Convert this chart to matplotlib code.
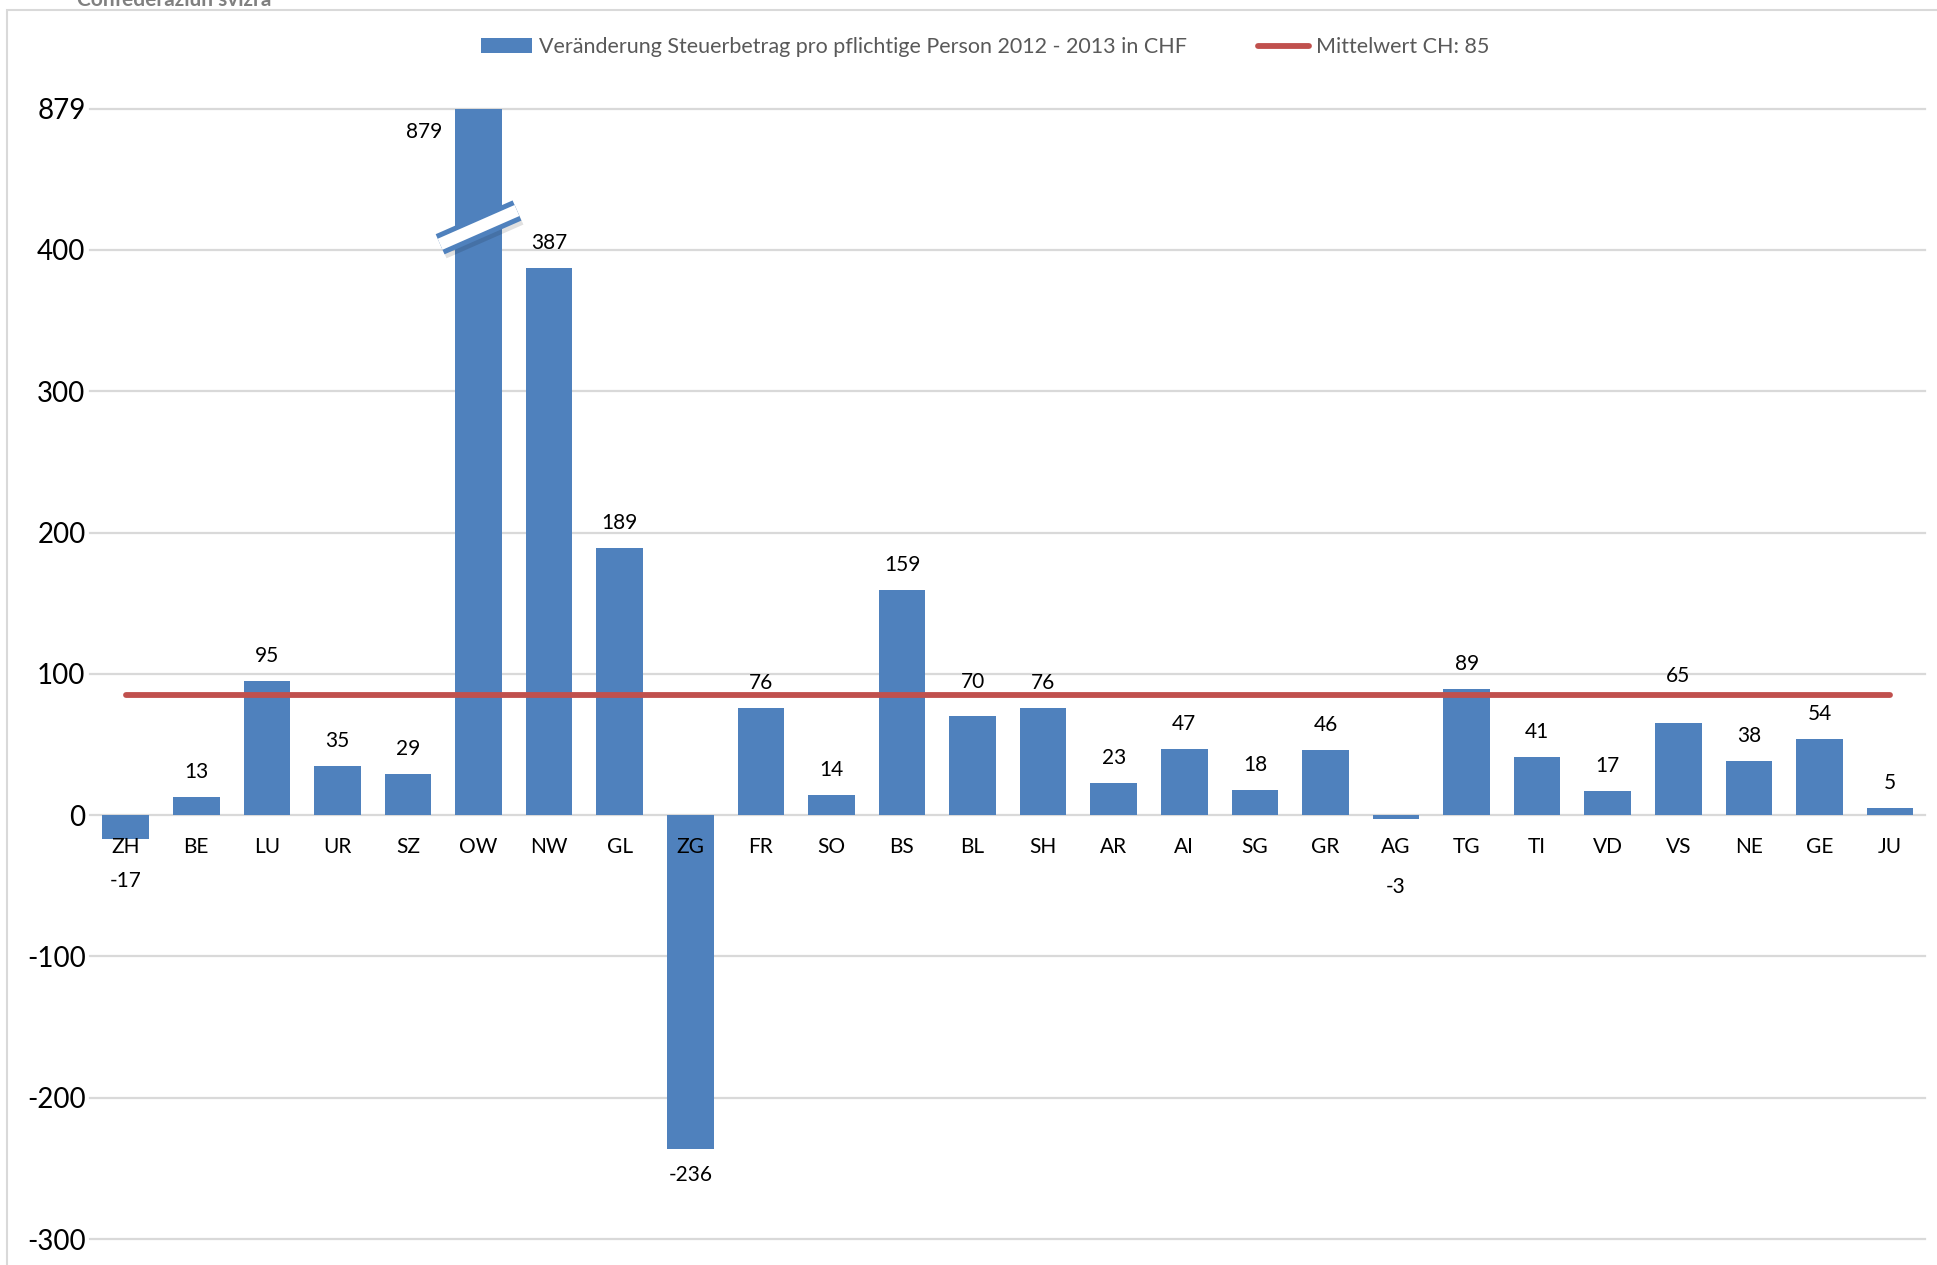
import numpy as np
import matplotlib
matplotlib.use("Agg")
import matplotlib.pyplot as plt
from matplotlib.patches import Polygon, Rectangle
from matplotlib.lines import Line2D
from matplotlib.patches import Patch

# ---- data ----
cantons = ["ZH", "BE", "LU", "UR", "SZ", "OW", "NW", "GL", "ZG", "FR", "SO", "BS", "BL",
           "SH", "AR", "AI", "SG", "GR", "AG", "TG", "TI", "VD", "VS", "NE", "GE", "JU"]
changes = [-17, 13, 95, 35, 29, 879, 387, 189, -236, 76, 14, 159, 70,
           76, 23, 47, 18, 46, -3, 89, 41, 17, 65, 38, 54, 5]
mean_ch = 85
ytick_values = [-300, -200, -100, 0, 100, 200, 300, 400, 500]
ytick_labels = ["-300", "-200", "-100", "0", "100", "200", "300", "400", "879"]
break_top = 500          # axis position at which the broken value 879 is drawn
break_at = 416           # where the break mark sits on the OW bar

series_label = "Veränderung Steuerbetrag pro pflichtige Person 2012 - 2013 in CHF"
mean_label = "Mittelwert CH: 85"

# label offsets in pixels (style)
label_dy = {"VS": 47, "BL": 34, "ZH": -42, "AG": -68}

BLUE = "#4F81BD"
RED = "#C0504D"
GRID = "#D9D9D9"

plt.rcParams["font.family"] = ["Lato", "DejaVu Sans"]

W, H = 1937, 1265
fig = plt.figure(figsize=(W / 100, H / 100), dpi=100)
x0, x1 = 90.4, 1925.3
ytop, ybot = 108.7, 1239.0
ax = fig.add_axes([x0 / W, 1 - ybot / H, (x1 - x0) / W, (ybot - ytop) / H])

# frame
fig.add_artist(Rectangle((7 / W, -0.05), 1.2, (H - 10) / H + 0.05, transform=fig.transFigure,
                         fill=False, ec=GRID, lw=1.5, zorder=0))
fig.text(77 / W, 1.0, "Confederaziun svizra", color="#808080", fontsize=15,
         fontweight="bold", va="center", ha="left")

x = np.arange(len(cantons))
shown = [min(v, break_top) for v in changes]

ax.set_xlim(-0.5, len(cantons) - 0.5)
ax.set_ylim(-300, 500)

for yv in ytick_values:
    if yv != 0:
        ax.axhline(yv, color=GRID, lw=1.6, zorder=0.5, clip_on=False)

ax.bar(x, shown, width=0.66, color=BLUE, zorder=1)
ax.plot([x[0], x[-1]], [mean_ch, mean_ch], color=RED, lw=4.2, solid_capstyle="round", zorder=3)

for s in ["top", "left", "right"]:
    ax.spines[s].set_visible(False)
ax.spines["bottom"].set_position(("data", 0))
ax.spines["bottom"].set_color(GRID)
ax.spines["bottom"].set_linewidth(1.6)
ax.spines["bottom"].set_zorder(0.5)

ax.set_xticks(x)
ax.set_xticklabels(cantons, fontsize=15)
ax.tick_params(axis="x", length=0, pad=16)
ax.set_yticks(ytick_values)
ax.set_yticklabels(ytick_labels, fontsize=20)
ax.tick_params(axis="y", length=0, pad=3.5)

# data labels
for xi, cat, v, sv in zip(x, cantons, changes, shown):
    if v > break_top:
        ax.annotate(str(v), (xi, sv), xytext=(-54, -23), textcoords="offset pixels",
                    ha="center", va="center", fontsize=15, zorder=4)
        continue
    dy = label_dy.get(cat, 25 if v >= 0 else -26)
    ax.annotate(str(v), (xi, sv), xytext=(0, dy), textcoords="offset pixels",
                ha="center", va="center", fontsize=15, zorder=4)

# break mark on the OW bar
ow = cantons.index("OW")
cx, cy = ax.transData.transform((x[ow], break_at))
ang = np.deg2rad(23.7)
u = np.array([np.cos(ang), np.sin(ang)])
n = np.array([-np.sin(ang), np.cos(ang)])
c = np.array([cx, cy])

def band(half_len, half_w, offset=(0, 0)):
    o = np.array(offset)
    return [c + o + half_len * u + half_w * n, c + o - half_len * u + half_w * n,
            c + o - half_len * u - half_w * n, c + o + half_len * u - half_w * n]

fig.add_artist(Polygon(band(42, 11, (2, -4)), closed=True, transform=None,
                       fc="#000000", alpha=0.12, ec="none", zorder=5))
fig.add_artist(Polygon(band(42, 11), closed=True, transform=None,
                       fc=BLUE, ec="none", zorder=6))
fig.add_artist(Polygon(band(42, 6), closed=True, transform=None,
                       fc="white", ec="none", zorder=7))

# legend
handles = [Patch(facecolor=BLUE, edgecolor="none"),
           Line2D([0], [0], color=RED, lw=4.2, solid_capstyle="round")]
leg = fig.legend(handles, [series_label, mean_label], loc="center",
                 bbox_to_anchor=(985 / W, 1 - 47 / H), ncol=2, frameon=False,
                 fontsize=15.5, handlelength=2.4, handleheight=0.65, handletextpad=0.3,
                 columnspacing=3.3, labelcolor="#595959")

fig.savefig("out.png", dpi=100)
